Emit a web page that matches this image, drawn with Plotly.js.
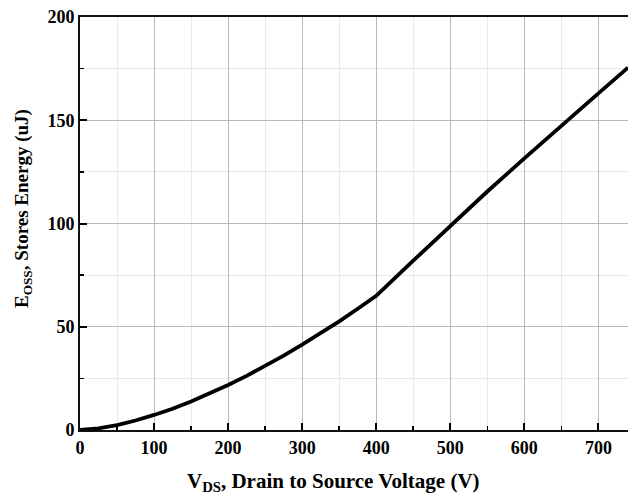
<!DOCTYPE html>
<html>
<head>
<meta charset="utf-8">
<script src="https://cdn.plot.ly/plotly-3.0.1.min.js"></script>
<style>html,body{margin:0;padding:0;background:#fff;}#chart{width:628px;height:497px;}</style>
</head>
<body>
<div id="chart"></div>
<script>
// Drain-to-source voltage (V)
const vds = [0, 25, 50, 75, 100, 125, 150, 175, 200, 225, 250, 275, 300, 325, 350, 375, 400, 450, 500, 550, 600, 650, 700, 740];
// Stored output energy E_OSS (uJ)
const eoss = [0, 0.8, 2.4, 4.6, 7.3, 10.3, 13.8, 17.6, 21.8, 26.2, 30.9, 36, 41.3, 46.8, 52.6, 58.7, 65, 82, 99, 115.5, 131.5, 147.5, 163, 175.5];

const xTickVals = [0, 100, 200, 300, 400, 500, 600, 700];
const yTickVals = [0, 50, 100, 150, 200];
const xTitle = 'V<sub>DS</sub>, Drain to Source Voltage (V)';
const yTitle = 'E<sub>OSS</sub>, Stores Energy (uJ)';

const serif = "'Liberation Serif', 'Times New Roman', serif";

const trace = {
  x: vds, y: eoss, type: 'scatter', mode: 'lines',
  line: {color: '#000000', width: 3.8, shape: 'linear'},
  hoverinfo: 'skip'
};

const layout = {
  width: 628, height: 497,
  margin: {l: 80, r: 0, t: 17, b: 67},
  paper_bgcolor: '#ffffff', plot_bgcolor: '#ffffff',
  showlegend: false,
  font: {family: serif, color: '#000', size: 18, weight: 'bold'},
  xaxis: {
    range: [0, 740], tickvals: xTickVals,
    ticks: 'inside', ticklen: 7, tickwidth: 2, tickcolor: '#000',
    showline: true, linecolor: '#111', linewidth: 2, mirror: true,
    showgrid: true, gridcolor: '#b8b8b8', gridwidth: 1,
    minor: {dtick: 50, ticks: 'inside', ticklen: 4, tickwidth: 1.5, tickcolor: '#000', showgrid: true, gridcolor: '#e8e8e8', gridwidth: 1},
    zeroline: false,
    tickfont: {family: serif, size: 18, color: '#000', weight: 'bold'}
  },
  yaxis: {
    range: [0, 200], tickvals: yTickVals,
    ticks: 'inside', ticklen: 7, tickwidth: 2, tickcolor: '#000',
    showline: true, linecolor: '#111', linewidth: 2,
    showgrid: true, gridcolor: '#b8b8b8', gridwidth: 1,
    minor: {dtick: 25, ticks: 'inside', ticklen: 4, tickwidth: 1.5, tickcolor: '#000', showgrid: true, gridcolor: '#e8e8e8', gridwidth: 1},
    zeroline: false,
    tickfont: {family: serif, size: 18, color: '#000', weight: 'bold'}
  },
  annotations: [
    {text: xTitle, xref: 'paper', yref: 'paper', x: 0.462, y: -0.126, xanchor: 'center', yanchor: 'middle',
     showarrow: false, font: {family: serif, size: 21, color: '#000', weight: 'bold'}},
    {text: yTitle, xref: 'paper', yref: 'paper', x: -0.104, y: 0.535, xanchor: 'center', yanchor: 'middle',
     textangle: -90, showarrow: false, font: {family: serif, size: 19, color: '#000', weight: 'bold'}}
  ]
};

Plotly.newPlot('chart', [trace], layout, {displayModeBar: false, staticPlot: true});
</script>
</body>
</html>
